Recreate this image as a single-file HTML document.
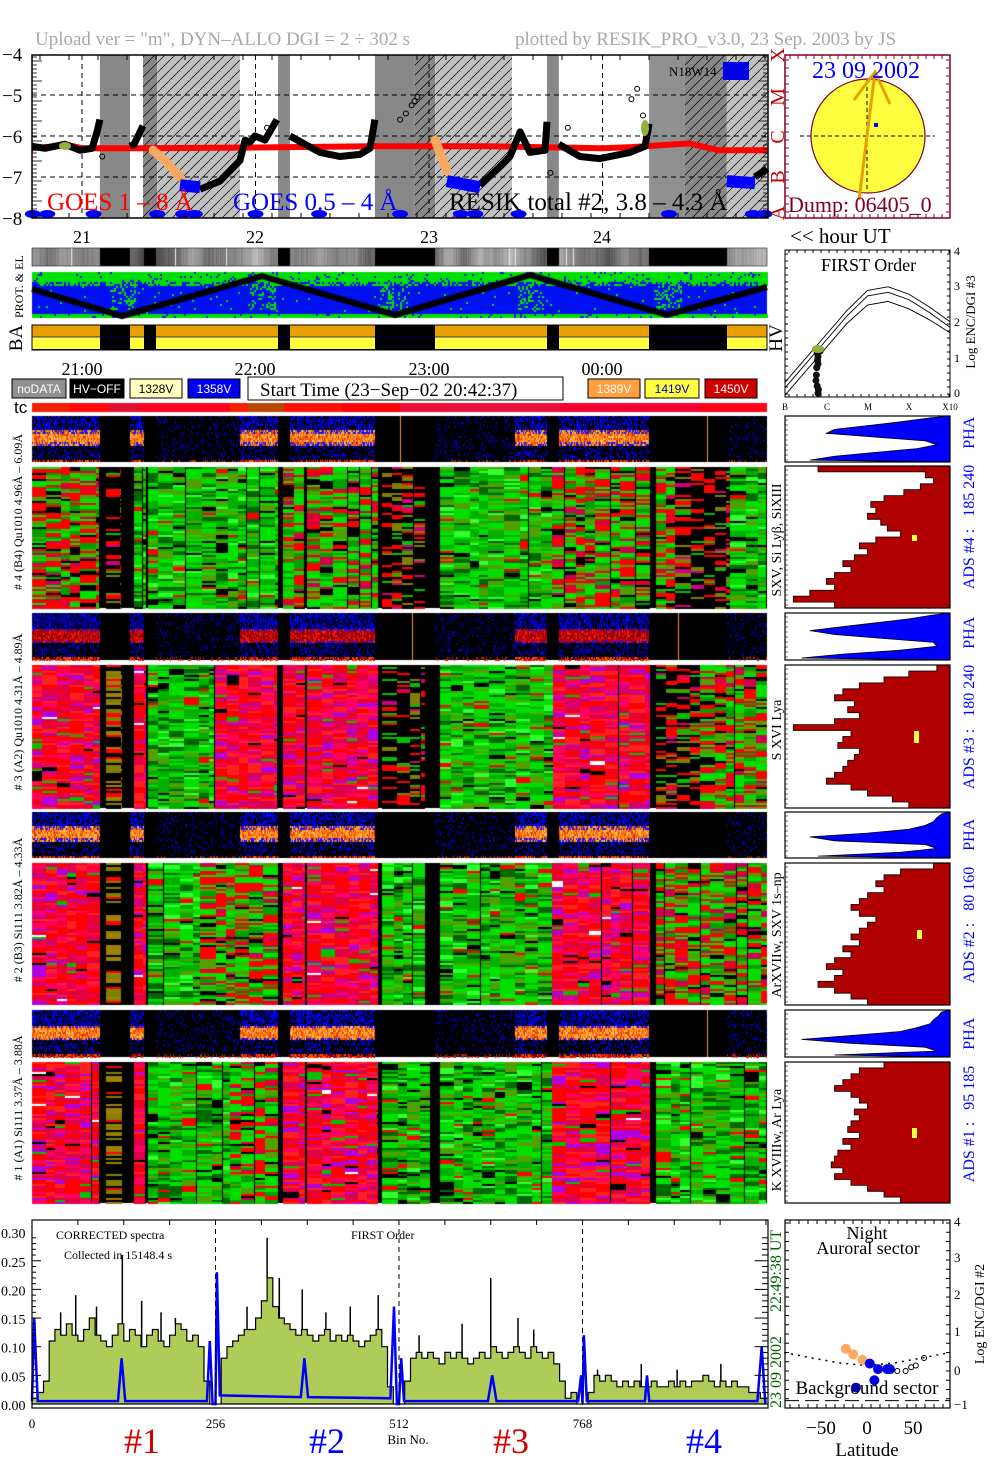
<!DOCTYPE html>
<html><head><meta charset="utf-8">
<style>
html,body{margin:0;padding:0;background:#fff;}
#root{position:relative;width:1004px;height:1477px;overflow:hidden;background:#fff;}
#tex,#svg{position:absolute;left:0;top:0;}
text{font-family:"Liberation Serif",serif;}
.sans{font-family:"Liberation Sans",sans-serif;}
</style></head>
<body>
<div id="root">
<canvas id="tex" width="1004" height="1477"></canvas>
<svg id="svg" width="1004" height="1477" viewBox="0 0 1004 1477" xmlns="http://www.w3.org/2000/svg">
<defs>
<pattern id="hatch" patternUnits="userSpaceOnUse" width="10" height="10"><path d="M-1,11 L11,-1" stroke="#000" stroke-width="0.7"/></pattern>
</defs>
<text x="35" y="45" font-size="19" fill="#a8a8a8">Upload ver = "m", DYN–ALLO DGI =   2 ÷ 302 s</text>
<text x="515" y="45" font-size="19" fill="#a8a8a8">plotted by RESIK_PRO_v3.0, 23 Sep. 2003 by JS</text>
<g id="goes"></g>
<g id="sun"></g>
<g id="strips"></g>
<g id="first"></g>
<g id="hist"></g>
<g id="spec"></g>
<g id="lat"></g>
</svg>
</div>
<script>
// ===== DATA =====
const resikT=[42.7,47.2,54.1,59.3,63.5,65.2,66.2,null,76.6,78,81.1,null,100.8,107.7,114.6,116.4,118.1,119.8,123.3,127.4,null,131.9,142.3,149.2,156.1,159.6,161.3,null,197.6,204.5,208.0,211.5,214.9,220.1,220.8,null,224.9,232.2,239.1,249.5,254.7,256.1,null,292.7,296.9];
const resikV=[-6.25,-6.3,-6.2,-6.35,-6.3,-5.9,-5.6,null,-6.25,-6.2,-5.75,null,-7.3,-7.1,-6.6,-6.1,-6.15,-6.0,-6.1,-5.6,null,-6.0,-6.4,-6.5,-6.45,-6.3,-5.6,null,-7.2,-6.75,-6.5,-5.9,-6.4,-6.35,-5.65,null,-6.2,-6.5,-6.55,-6.4,-6.25,-5.7,null,-7.0,-6.8];
const orangeT=[84.6,88.7,93.9,null,182.1,186.2];
const orangeV=[-6.35,-6.6,-7.0,null,-6.1,-6.85];
const blueT=[93.9,100.8,null,186.2,197.6,null,283.0,292.7];
const blueV=[-7.2,-7.25,null,-7.1,-7.25,null,-7.1,-7.15];
const redT=[42.7,50,54,60,80,120,160,200,240,250,270,280,297];
const redV=[-6.3,-6.25,-6.2,-6.3,-6.3,-6.28,-6.25,-6.25,-6.3,-6.27,-6.18,-6.35,-6.35];
const lowBlueT=[43,48,64,86,95,99,120,142,170,191,196,211,263,292,296];
const outlierT=[67,124,170,172,174,175,176,222,228,250,252,254];
const outlierV=[-6.5,-5.8,-5.6,-5.45,-5.25,-5.15,-5.05,-6.9,-5.8,-5.1,-4.85,-5.5];
const bandS=[66.2,81.1,86.0,127.8,161.3,175.1,182.1,220.8,256.1,268.5,283.0];
const bandE=[76.6,86.0,114.6,131.9,175.1,182.1,208.7,224.9,268.5,283.0,296.9];
const bandK=['d','dh','lh','d','d','dh','lh','d','m','dh','lh'];
const specD1=[0.01,0.02,0.04,0.11,0.13,0.12,0.14,0.12,0.11,0.13,0.15,0.12,0.11,0.10,0.12,0.14,0.11,0.13,0.12,0.10,0.12,0.13,0.11,0.10,0.12,0.14,0.13,0.11,0.12,0.10,0.04,0.00];
const specD2=[0.00,0.08,0.10,0.11,0.12,0.13,0.13,0.15,0.18,0.22,0.17,0.15,0.14,0.13,0.12,0.13,0.12,0.11,0.12,0.13,0.11,0.12,0.11,0.12,0.11,0.10,0.11,0.12,0.13,0.10,0.03,0.00];
const specD3=[0.00,0.04,0.08,0.09,0.08,0.09,0.08,0.07,0.09,0.08,0.09,0.08,0.07,0.08,0.09,0.08,0.10,0.09,0.08,0.09,0.10,0.09,0.08,0.10,0.09,0.08,0.09,0.07,0.04,0.01,0.02,0.00];
const specD4=[0.00,0.02,0.05,0.04,0.05,0.04,0.03,0.04,0.03,0.04,0.03,0.03,0.04,0.03,0.03,0.04,0.03,0.04,0.03,0.04,0.04,0.05,0.04,0.03,0.04,0.03,0.04,0.03,0.03,0.02,0.02,0.01];
const peakBins=[40,61,90,126,153,180,200,300,328,345,377,410,444,483,540,600,640,678,700,789,850,900,961];
const peakVals=[0.16,0.19,0.17,0.26,0.18,0.16,0.15,0.17,0.29,0.22,0.20,0.16,0.17,0.19,0.12,0.14,0.22,0.15,0.13,0.06,0.07,0.06,0.07];
const bgBins=[0,3,8,120,125,130,244,248,252,256,258,262,375,380,385,500,505,509,512,515,519,636,642,648,762,766,768,770,774,855,858,861,1012,1018,1023];
const bgVals=[0.005,0.15,0.005,0.005,0.08,0.005,0.005,0.11,0.0,0.0,0.23,0.015,0.012,0.08,0.012,0.01,0.17,0.0,0.0,0.08,0.005,0.005,0.05,0.005,0.005,0.05,0.0,0.12,0.005,0.005,0.05,0.005,0.005,0.1,0.0];
const pha4=[0.88,0.7,0.5,0.3,0.25,0.55,0.85,0.92,0.8,0.55,0.3,0.15];
const pha3=[0.9,0.75,0.55,0.35,0.15,0.3,0.6,0.9,0.92,0.7,0.35,0.1];
const pha2=[0.95,0.92,0.9,0.85,0.75,0.5,0.15,0.3,0.85,0.92,0.7,0.2];
const pha1=[0.95,0.93,0.9,0.88,0.8,0.7,0.4,0.1,0.4,0.85,0.92,0.3];
const ads4=[0.2,0.85,0.9,0.82,0.72,0.6,0.52,0.55,0.5,0.58,0.62,0.7,0.55,0.45,0.5,0.42,0.35,0.4,0.3,0.25,0.3,0.15,0.05,0.3];
const ads3=[0.92,0.75,0.6,0.45,0.35,0.3,0.42,0.38,0.45,0.3,0.05,0.4,0.35,0.32,0.45,0.42,0.38,0.35,0.3,0.25,0.4,0.5,0.65,0.75];
const ads2=[0.9,0.7,0.6,0.55,0.6,0.5,0.45,0.4,0.45,0.55,0.5,0.45,0.4,0.45,0.35,0.4,0.3,0.25,0.35,0.3,0.2,0.3,0.4,0.5];
const ads1=[0.6,0.45,0.4,0.35,0.3,0.4,0.45,0.5,0.42,0.45,0.4,0.38,0.45,0.35,0.4,0.32,0.3,0.28,0.35,0.3,0.4,0.5,0.6,0.7];
const firstDec=[0,0.5,1,1.5,2,2.5,3,3.5,4];
const firstC1=[0.4,1.05,1.7,2.35,2.9,3.0,2.8,2.45,2.05];
const firstC2=[0.25,0.9,1.55,2.2,2.75,2.85,2.65,2.3,1.9];
const firstC3=[0.05,0.7,1.35,2.0,2.5,2.6,2.4,2.1,1.75];
const firstPtsX=[0.78,0.8,0.82,0.85,0.8,0.76,0.78,0.8,0.75,0.77,0.79,0.81];
const firstPtsY=[1.2,1.1,1.3,1.25,0.9,0.6,0.3,0.1,0.45,0.8,1.0,0.2];
const latOrange=[-23,-15,-5];
const latOrangeV=[0.6,0.45,0.3];
const latBlue=[3,12,22,25,8,-12];
const latBlueV=[0.2,0.05,0.05,0.05,-0.25,-0.45];
const latOpen=[33,42,48,53,62];
const latOpenV=[0.0,0.0,0.1,0.15,0.35];
const latCurveX=[-90,-60,-30,0,30,60,90];
const latCurveV=[0.5,0.35,0.22,0.15,0.22,0.35,0.5];

// ===== helpers =====
const NS='http://www.w3.org/2000/svg';
function el(parent,tag,attrs,txt){const e=document.createElementNS(NS,tag);for(const k in attrs)e.setAttribute(k,attrs[k]);if(txt!=null)e.textContent=txt;parent.appendChild(e);return e;}
const tx=m=>82+(m-60)*2.8917;
const gy=v=>54+(-4-v)*41;
function hs(a,b,c){let h=Math.imul(a|0,374761393)^Math.imul(b|0,668265263)^Math.imul(c|0,1274126177);h=Math.imul(h^(h>>>13),1274126177);h^=h>>>16;return (h>>>0)/4294967296;}
function pick(pal,r){let t=0;for(const p of pal)t+=p[1];let a=r*t;for(const p of pal){a-=p[1];if(a<=0)return p[0];}return pal[pal.length-1][0];}
function pathFrom(T,V,fx,fy){let d='',pen=false;for(let i=0;i<T.length;i++){if(T[i]===null){pen=false;continue;}d+=(pen?'L':'M')+fx(T[i]).toFixed(1)+','+fy(V[i]).toFixed(1);pen=true;}return d;}

// ===== canvas textures =====
const C=document.getElementById('tex').getContext('2d');
const gaps=[[100,130],[144,156],[278,290],[375,435],[547,559],[649,727]];
// smooth time gradient strip
for(let x=32;x<767;x++){const a=hs(x>>4,1,2),b=hs((x>>4)+1,1,2),f=(x%16)/16;let g=Math.round(60+130*(a*(1-f)+b*f)+25*hs(x,3,4));if(hs(x,5,6)<0.012)g=235;C.fillStyle=`rgb(${g},${g},${g})`;C.fillRect(x,248,1,18);}
C.fillStyle='#000';for(const g of gaps)C.fillRect(g[0],248,g[1]-g[0],18);
// PROT strip
C.fillStyle='#0010f0';C.fillRect(32,272,735,46);
for(let x=32;x<767;x+=2)for(let y=272;y<318;y+=2){const r=(y-272)/46;let p=r<0.2?0.92:(r<0.3?0.5:(r>0.88?0.9:0.02));const near=[122,262,395,530,667].some(c=>Math.abs(c-x)<14);if(near&&r<0.8)p=Math.max(p,0.3);if(hs(x>>1,y>>1,11)<p){C.fillStyle='#00e000';C.fillRect(x,y,2,2);}}
const zig=[[32,289],[122,316],[262,276],[395,315],[530,275],[667,315],[767,287]];
C.strokeStyle='#000';C.lineWidth=6;C.beginPath();zig.forEach((p,i)=>i?C.lineTo(p[0],p[1]):C.moveTo(p[0],p[1]));C.stroke();
// tc strip
const tcCols=[['#f02000',32,70],['#ff0a0a',70,110],['#e01030',110,140],['#ff0020',140,230],['#f02000',230,248],['#b84800',248,284],['#ff1000',284,343],['#ff0000',343,400],['#e8103a',400,560],['#f00030',560,700],['#ff0018',700,767]];
for(const c of tcCols){C.fillStyle=c[0];C.fillRect(c[1],403,c[2]-c[1],9);}
// PHA strips
const phaLayout=[[32,100,'A'],[100,130,'K'],[130,144,'A'],[144,156,'K'],[156,240,'D'],[240,278,'A'],[278,290,'K'],[290,375,'A'],[375,435,'K'],[435,515,'D'],[515,547,'A'],[547,559,'K'],[559,649,'A'],[649,727,'K'],[727,767,'D']];
const bandOrange=[['#ff9020',3],['#ff6000',3],['#ffb040',2],['#e03000',2],['#ffd060',1]];
const bandRed=[['#c00000',3],['#ff2000',2],['#a00020',2],['#800000',2]];
function drawPHA(y0,h,sid,band,lines){C.fillStyle='#000';C.fillRect(32,y0,735,h);
 for(const s of phaLayout){if(s[2]==='K')continue;for(let x=s[0];x<s[1];x++)for(let y=y0;y<y0+h;y+=2){const rel=(y-y0)/h,r=hs(x,y,sid);let c=null;
  if(s[2]==='A'){if(rel>0.3&&rel<0.62){c=(rel>0.36&&rel<0.56)?pick(band,r):(r<0.6?pick(band,hs(y,x,sid)):'#1010ff');}
   else if(rel>=0.92){if(r<0.7)c=r<0.35?'#ff5000':'#d00000';}
   else{const p=rel<0.3?0.55:0.28;if(r<p)c=r<p*0.6?'#0000ff':'#0000a0';}}
  else{if(rel>=0.92){if(r<0.25)c='#c02000';}else if(r<0.12)c='#0000d0';}
  if(c){C.fillStyle=c;C.fillRect(x,y,1,2);}}}
 for(const lx of lines){C.fillStyle='#ff9020';C.fillRect(lx,y0,1,h);}}
drawPHA(416,46,21,bandOrange,[400,707]);
drawPHA(613,47,22,bandRed,[412,678]);
drawPHA(812,46,23,bandOrange,[]);
drawPHA(1010,47,24,bandOrange,[707]);
const PAL={G:[['#00e000',4],['#00b000',3],['#50a000',2],['#006800',2],['#ff0000',0.6],['#000000',0.8],['#30ff30',1]],
R:[['#ff0000',4],['#e0004a',3],['#b000e0',1.5],['#ff0060',2],['#00c000',0.5],['#000000',0.3],['#ff2020',2],['#ffffff',0.12]],
M:[['#00e000',3],['#ff0000',3],['#50a000',1.5],['#d00050',1],['#000000',1],['#00a000',1.5]],
S:[['#000000',7],['#ff0000',2],['#00c000',1],['#808000',1],['#d00080',0.5]],
O:[['#000000',4],['#a08000',2],['#ff0000',1],['#808000',2]]};
const spec4L=[[32,100,'M'],[106,122,'S'],[134,146,'G'],[148,278,'G'],[283,305,'M'],[307,378,'M'],[382,425,'S'],[440,552,'G'],[552,650,'M'],[656,675,'M'],[675,730,'S'],[730,767,'G']];
const spec3L=[[32,100,'R'],[106,122,'O'],[134,146,'R'],[148,215,'G'],[215,278,'R'],[283,305,'R'],[307,378,'R'],[382,425,'S'],[440,553,'G'],[553,650,'R'],[656,700,'S'],[700,767,'M']];
const spec2L=[[32,100,'R'],[106,122,'O'],[134,146,'R'],[148,200,'G'],[200,278,'M'],[283,305,'R'],[307,378,'R'],[382,425,'G'],[440,552,'G'],[552,650,'R'],[656,767,'M']];
const spec1L=[[32,100,'R'],[106,122,'O'],[134,146,'R'],[148,230,'G'],[230,278,'M'],[283,305,'R'],[307,378,'R'],[382,430,'G'],[440,552,'G'],[552,650,'R'],[656,767,'G']];
function drawSpec(y0,h,L,sid){C.fillStyle='#000';C.fillRect(32,y0,735,h);
 for(const s of L){const pal=PAL[s[2]];let x=s[0];while(x<s[1]){let w=9+Math.floor(hs(x,sid,7)*8);if(x+w>s[1])w=s[1]-x;let cur=null;
  for(let y=y0;y<y0+h;y+=2){if(cur===null||hs(x,y,sid)<0.8)cur=pick(pal,hs(y,x,sid+3));C.fillStyle=cur;C.fillRect(x,y,w,2);}
  if(hs(x,sid,9)<0.2){C.fillStyle='#000';C.fillRect(x+w-1,y0,1,h);}x+=w;}}}
drawSpec(467,141,spec4L,31);drawSpec(665,143,spec3L,32);drawSpec(863,142,spec2L,33);drawSpec(1062,141,spec1L,34);

// ===== SVG =====
const G=document.getElementById('goes');
for(let i=0;i<bandS.length;i++){const k=bandK[i];const x0=tx(bandS[i]),w=tx(bandE[i])-x0;
 const f=k==='lh'?'#c0c0c0':(k==='m'?'#909090':'#888888');
 const r=el(G,'rect',{x:x0,y:55,width:w,height:163,fill:f});
 
 if(k==='lh'||k==='dh'){const hr=el(G,'rect',{x:x0,y:55,width:w,height:163,fill:'url(#hatch)'});}}
for(const v of [-5,-6,-7]){el(G,'line',{x1:32,x2:768,y1:gy(v),y2:gy(v),stroke:'#000','stroke-dasharray':'5,4','stroke-width':1});}
for(const m of [60,120,180,240]){el(G,'line',{x1:tx(m),x2:tx(m),y1:55,y2:218,stroke:'#000','stroke-dasharray':'5,4','stroke-width':1});}
let p=el(G,'path',{d:pathFrom(redT,redV,tx,gy),stroke:'#ff0000','stroke-width':6,fill:'none'});
p=el(G,'path',{d:pathFrom(resikT,resikV,tx,gy),stroke:'#000','stroke-width':7,fill:'none','stroke-linejoin':'round'});
p=el(G,'path',{d:pathFrom(orangeT,orangeV,tx,gy),stroke:'#f8a860','stroke-width':9,fill:'none','stroke-linecap':'round'});
p=el(G,'path',{d:pathFrom(blueT,blueV,tx,gy),stroke:'#0000ff','stroke-width':12,fill:'none'});
for(let i=0;i<lowBlueT.length;i++){const e=el(G,'ellipse',{cx:tx(lowBlueT[i]),cy:214,rx:8,ry:4,fill:'#0000ff'});}
for(let i=0;i<outlierT.length;i++){const e=el(G,'circle',{cx:tx(outlierT[i]),cy:gy(outlierV[i]),r:2.5,fill:'none',stroke:'#000'});}
el(G,'ellipse',{cx:65,cy:146,rx:6,ry:4,fill:'#90b040'});el(G,'ellipse',{cx:645,cy:128,rx:4,ry:8,fill:'#90b040'});
el(G,'rect',{x:32,y:55,width:736,height:163,fill:'none',stroke:'#000','stroke-width':1.5});
for(let y=57;y<218;y+=4)el(G,'line',{x1:32,x2:y%20<4?42:37,y1:y,y2:y,stroke:'#000','stroke-width':0.8});
for(let y=57;y<218;y+=4)el(G,'line',{x1:768,x2:y%20<4?758:763,y1:y,y2:y,stroke:'#000','stroke-width':0.8});
for(let x=40;x<768;x+=29){el(G,'line',{x1:x,x2:x,y1:55,y2:60,stroke:'#000'});el(G,'line',{x1:x,x2:x,y1:218,y2:213,stroke:'#000'});}
[-4,-5,-6,-7,-8].forEach(v=>{const t=el(G,'text',{x:2,y:gy(v)+7,'font-size':19},'−'+(-v));});
['A','B','C','M','X'].forEach((L,i)=>{const y=[213,177,137,97,55][i];el(G,'text',{x:784,y:y,'font-size':20,fill:'#c00000',transform:`rotate(-90 784 ${y})`,'text-anchor':'middle'},L);});
el(G,'rect',{x:723,y:62,width:26,height:18,fill:'#0000e0'});
el(G,'text',{x:669,y:76,'font-size':13},'N18W14');
let t=el(G,'text',{x:47,y:210,'font-size':25,fill:'#ff0000'},'GOES 1 – 8 Å');
t=el(G,'text',{x:233,y:210,'font-size':25,fill:'#0000ff'},'GOES 0.5 – 4 Å');
t=el(G,'text',{x:449,y:210,'font-size':25,fill:'#000'},'RESIK total #2, 3.8 – 4.3 Å');

const SU=document.getElementById('sun');
el(SU,'rect',{x:785,y:55,width:165,height:163,fill:'#fff',stroke:'#800020','stroke-width':1.5});
for(let x=790;x<950;x+=8){el(SU,'line',{x1:x,x2:x,y1:55,y2:59,stroke:'#800020'});el(SU,'line',{x1:x,x2:x,y1:218,y2:214,stroke:'#800020'});}
for(let y=60;y<218;y+=8){el(SU,'line',{x1:785,x2:789,y1:y,y2:y,stroke:'#800020'});el(SU,'line',{x1:950,x2:946,y1:y,y2:y,stroke:'#800020'});}
el(SU,'circle',{cx:868,cy:136,r:57,fill:'#ffff40',stroke:'#800020','stroke-width':1.2});
el(SU,'line',{x1:800,x2:935,y1:136,y2:136,stroke:'#000','stroke-dasharray':'4,3'});
el(SU,'line',{x1:867,x2:867,y1:80,y2:192,stroke:'#000','stroke-dasharray':'4,3'});
el(SU,'path',{d:'M859,200 L875,72 M854,100 L875,72 L890,104',stroke:'#e8a000','stroke-width':3,fill:'none'});
el(SU,'rect',{x:874,y:123,width:4,height:4,fill:'#0000ff'});
el(SU,'text',{x:812,y:78,'font-size':24,fill:'#0000ff'},'23 09 2002');
el(SU,'text',{x:788,y:212,'font-size':22,fill:'#800020'},'Dump: 06405_0');

const ST=document.getElementById('strips');
[['21',82],['22',255],['23',429],['24',602]].forEach(a=>el(ST,'text',{x:a[1],y:243,'font-size':18,'text-anchor':'middle'},a[0]));
el(ST,'text',{x:790,y:243,'font-size':21},'<< hour UT');
el(ST,'text',{x:23,y:318,'font-size':12,transform:'rotate(-90 23 318)'},'PROT. & EL');
el(ST,'rect',{x:32,y:248,width:735,height:18,fill:'none',stroke:'#000','stroke-width':0.5});
const hvS=[32,130,156,290,435,559,727],hvE=[100,144,278,375,547,649,767];
el(ST,'rect',{x:32,y:325,width:735,height:25,fill:'#000'});
for(let i=0;i<hvS.length;i++){el(ST,'rect',{x:hvS[i],y:325,width:hvE[i]-hvS[i],height:12,fill:'#e8a000'});el(ST,'rect',{x:hvS[i],y:337,width:hvE[i]-hvS[i],height:12,fill:'#ffff40'});}
el(ST,'line',{x1:32,x2:767,y1:337,y2:337,stroke:'#000080','stroke-width':0.7});
el(ST,'rect',{x:32,y:325,width:735,height:25,fill:'none',stroke:'#000','stroke-width':1});
el(ST,'text',{x:22,y:338,'font-size':19,transform:'rotate(-90 22 338)','text-anchor':'middle'},'BA');
el(ST,'text',{x:782,y:338,'font-size':19,transform:'rotate(-90 782 338)','text-anchor':'middle'},'HV');
[['21:00',82],['22:00',255],['23:00',429],['00:00',602]].forEach(a=>el(ST,'text',{x:a[1],y:375,'font-size':18,'text-anchor':'middle'},a[0]));
const leg=[['noDATA',12,54,'#909090','#fff'],['HV−OFF',70,54,'#000','#fff'],['1328V',130,52,'#ffffc0','#000'],['1358V',188,52,'#0000f0','#fff'],['1389V',588,52,'#ffa040','#fff'],['1419V',645,54,'#ffff40','#0000c0'],['1450V',705,52,'#d00000','#fff']];
for(const l of leg){const g=el(ST,'g',{});
 el(g,'rect',{x:l[1],y:379,width:l[2],height:19,fill:l[3],stroke:'#000'});el(g,'text',{x:l[1]+l[2]/2,y:393,'font-size':12,'text-anchor':'middle',fill:l[4],class:'sans'},l[0]);}
el(ST,'rect',{x:248,y:377,width:315,height:23,fill:'#fff',stroke:'#000'});
el(ST,'text',{x:260,y:396,'font-size':19},'Start Time (23−Sep−02 20:42:37)');
el(ST,'text',{x:14,y:413,'font-size':17,class:'sans'},'tc');
[['# 4 (B4) Qu1010 4.96Å – 6.09Å',512],['# 3 (A2) Qu1010 4.31Å – 4.89Å',712],['# 2 (B3) Si111 3.82Å – 4.33Å',910],['# 1 (A1) Si111 3.37Å – 3.88Å',1108]].forEach(a=>{const t=el(ST,'text',{x:22,y:a[1],'font-size':12,transform:`rotate(-90 22 ${a[1]})`,'text-anchor':'middle'},a[0]);});
[['SXV, Si Lyβ, SiXIII',540],['S XVI Lya',730],['ArXVIIw, SXV 1s–np',935],['K XVIIIw, Ar Lya',1140]].forEach(a=>el(ST,'text',{x:781,y:a[1],'font-size':14,transform:`rotate(-90 781 ${a[1]})`,'text-anchor':'middle'},a[0]));
[['ADS #4 :   185 240    PHA',503],['ADS #3 :   180 240    PHA',703],['ADS #2 :   80 160    PHA',901],['ADS #1 :   95 185    PHA',1100]].forEach(a=>{const t=el(ST,'text',{x:974,y:a[1],'font-size':16,fill:'#0000ff',transform:`rotate(-90 974 ${a[1]})`,'text-anchor':'middle'},a[0]);t.setAttribute('style','white-space:pre');});

const F=document.getElementById('first');
const fx=d=>785+d*41.25,fy=v=>397-v*36.75;
el(F,'rect',{x:785,y:250,width:165,height:147,fill:'#fff',stroke:'#000'});
for(let x=789;x<950;x+=8){el(F,'line',{x1:x,x2:x,y1:250,y2:253,stroke:'#000'});el(F,'line',{x1:x,x2:x,y1:397,y2:394,stroke:'#000'});}
for(let y=254;y<397;y+=7){el(F,'line',{x1:785,x2:788,y1:y,y2:y,stroke:'#000'});el(F,'line',{x1:950,x2:947,y1:y,y2:y,stroke:'#000'});}
[firstC1,firstC2,firstC3].forEach((c,i)=>{const q=el(F,'path',{d:pathFrom(firstDec,c,fx,fy),stroke:'#000',fill:'none','stroke-width':0.9});});
for(let i=0;i<firstPtsX.length;i++){const c=el(F,'circle',{cx:fx(firstPtsX[i]),cy:fy(firstPtsY[i]),r:3.5,fill:'#111'});}
el(F,'ellipse',{cx:818,cy:349,rx:6,ry:4,fill:'#90b040'});
el(F,'text',{x:821,y:271,'font-size':18},'FIRST Order');
[['4',255],['3',290],['2',326],['1',362],['0',397]].forEach(a=>el(F,'text',{x:954,y:a[1],'font-size':12},a[0]));
el(F,'text',{x:975,y:322,'font-size':13,transform:'rotate(-90 975 322)','text-anchor':'middle'},'Log ENC/DGI #3');
[['B',785],['C',827],['M',868],['X',909],['X10',950]].forEach(a=>el(F,'text',{x:a[1],y:410,'font-size':9,'text-anchor':'middle'},a[0]));

const H=document.getElementById('hist');
function hist(y0,h,arr,fill,nm,mark,smooth){const w=165,x0=785;el(H,'rect',{x:x0,y:y0,width:w,height:h,fill:'#fff'});
 const n=arr.length,dy=h/n;let d=`M${x0+w},${y0}`;
 for(let i=0;i<n;i++){const x=x0+arr[i]*w;if(smooth)d+=`L${x.toFixed(1)},${(y0+(i+0.5)*dy).toFixed(1)}`;else d+=`L${x.toFixed(1)},${(y0+i*dy).toFixed(1)}L${x.toFixed(1)},${(y0+(i+1)*dy).toFixed(1)}`;}
 d+=`L${x0+w},${y0+h}Z`;
 const q=el(H,'path',{d:d,fill:fill,stroke:'#000','stroke-width':0.8});
 if(mark)el(H,'rect',{x:mark[0],y:mark[1],width:5,height:mark[2],fill:'#ffff40'});
 el(H,'rect',{x:x0,y:y0,width:w,height:h,fill:'none',stroke:'#000','stroke-width':1.2});
 for(let y=y0+4;y<y0+h;y+=5)el(H,'line',{x1:x0,x2:x0+3,y1:y,y2:y,stroke:'#000','stroke-width':0.6});}
hist(416,46,pha4,'#0000ff','pha4-histogram',null,true);hist(466,142,ads4,'#b00000','ads4-histogram',[912,535,6]);
hist(613,47,pha3,'#0000ff','pha3-histogram',null,true);hist(665,143,ads3,'#b00000','ads3-histogram',[914,731,12]);
hist(812,46,pha2,'#0000ff','pha2-histogram',null,true);hist(863,142,ads2,'#b00000','ads2-histogram',[917,930,9]);
hist(1010,47,pha1,'#0000ff','pha1-histogram',null,true);hist(1062,141,ads1,'#b00000','ads1-histogram',[912,1128,10]);

const SP=document.getElementById('spec');
const xb=b=>32+b*0.7168,ys=v=>1404-v*573;
const allSpec=specD1.concat(specD2,specD3,specD4);
let d=`M${xb(0)},${ys(0)}`;for(let i=0;i<allSpec.length;i++){d+=`L${xb(i*8).toFixed(1)},${ys(allSpec[i]).toFixed(1)}L${xb(i*8+8).toFixed(1)},${ys(allSpec[i]).toFixed(1)}`;}d+=`L${xb(1024)},${ys(0)}Z`;
p=el(SP,'path',{d:d,fill:'#b0cc58',stroke:'#000','stroke-width':1.2});
for(let i=0;i<peakBins.length;i++){const q=el(SP,'line',{x1:xb(peakBins[i]),x2:xb(peakBins[i]),y1:ys(allSpec[Math.floor(peakBins[i]/8)]),y2:ys(peakVals[i]),stroke:'#000','stroke-width':1.5});}
p=el(SP,'path',{d:pathFrom(bgBins,bgVals,xb,ys),stroke:'#0000ff','stroke-width':2.5,fill:'none'});
for(const b of [256,512,768])el(SP,'line',{x1:xb(b),x2:xb(b),y1:1220,y2:1408,stroke:'#000','stroke-dasharray':'5,4'});
el(SP,'rect',{x:32,y:1220,width:736,height:188,fill:'none',stroke:'#000','stroke-width':1.2});
for(let v=0;v<=0.3;v+=0.01){const L=Math.round(v*100)%5===0?9:4;el(SP,'line',{x1:32,x2:32+L,y1:ys(v),y2:ys(v),stroke:'#000'});el(SP,'line',{x1:768,x2:768-L*1.5,y1:ys(v),y2:ys(v),stroke:'#000'});}
for(let b=0;b<=1024;b+=64)el(SP,'line',{x1:xb(b),x2:xb(b),y1:1220,y2:1225,stroke:'#000'});
['0.00','0.05','0.10','0.15','0.20','0.25','0.30'].forEach((s,i)=>{const t=el(SP,'text',{x:1,y:ys(i*0.05)+6,'font-size':14},s);});
[['0',0],['256',256],['512',512],['768',768]].forEach(a=>el(SP,'text',{x:xb(a[1]),y:1428,'font-size':13,'text-anchor':'middle'},a[0]));
el(SP,'text',{x:408,y:1444,'font-size':13,'text-anchor':'middle'},'Bin No.');
[['#1',142,'#d00000'],['#2',327,'#0000ff'],['#3',511,'#d00000'],['#4',704,'#0000ff']].forEach(a=>{const t=el(SP,'text',{x:a[1],y:1453,'font-size':36,'text-anchor':'middle',fill:a[2]},a[0]);});
el(SP,'text',{x:56,y:1239,'font-size':12},'CORRECTED spectra');
el(SP,'text',{x:64,y:1259,'font-size':12},'Collected in 15148.4 s');
el(SP,'text',{x:351,y:1239,'font-size':12},'FIRST Order');
el(SP,'text',{x:781,y:1408,'font-size':16,fill:'#006000',transform:'rotate(-90 781 1408)',style:'white-space:pre'},'23 09 2002      22:49:38 UT');

const LA=document.getElementById('lat');
const lx=v=>867+v*0.92,ly=v=>1371-v*37;
el(LA,'rect',{x:785,y:1220,width:165,height:188,fill:'#fff',stroke:'#000','stroke-width':1.2});
for(let x=790;x<950;x+=9){el(LA,'line',{x1:x,x2:x,y1:1220,y2:1224,stroke:'#000'});el(LA,'line',{x1:x,x2:x,y1:1408,y2:1404,stroke:'#000'});}
for(let v=-1;v<=4;v+=0.25){el(LA,'line',{x1:785,x2:789,y1:ly(v),y2:ly(v),stroke:'#000'});el(LA,'line',{x1:950,x2:946,y1:ly(v),y2:ly(v),stroke:'#000'});}
p=el(LA,'path',{d:pathFrom(latCurveX,latCurveV,lx,ly),stroke:'#000','stroke-dasharray':'2,5','stroke-width':1.5,fill:'none'});
el(LA,'line',{x1:785,x2:950,y1:ly(-0.8),y2:ly(-0.8),stroke:'#000','stroke-dasharray':'14,6'});
for(let i=0;i<latOrange.length;i++){const c=el(LA,'circle',{cx:lx(latOrange[i]),cy:ly(latOrangeV[i]),r:5,fill:'#ffa860'});}
for(let i=0;i<latBlue.length;i++){const c=el(LA,'circle',{cx:lx(latBlue[i]),cy:ly(latBlueV[i]),r:5,fill:'#0000e0'});}
for(let i=0;i<latOpen.length;i++){const c=el(LA,'circle',{cx:lx(latOpen[i]),cy:ly(latOpenV[i]),r:2.5,fill:'none',stroke:'#000'});}
el(LA,'text',{x:867,y:1239,'font-size':18,'text-anchor':'middle'},'Night');
el(LA,'text',{x:868,y:1254,'font-size':18,'text-anchor':'middle'},'Auroral sector');
el(LA,'text',{x:867,y:1394,'font-size':19,'text-anchor':'middle'},'Background sector');
[['4',1226],['3',1262],['2',1299],['1',1336],['0',1375],['−1',1409]].forEach(a=>el(LA,'text',{x:954,y:a[1],'font-size':13},a[0]));
el(LA,'text',{x:984,y:1314,'font-size':14,transform:'rotate(-90 984 1314)','text-anchor':'middle'},'Log ENC/DGI #2');
[['−50',821],['0',867],['50',913]].forEach(a=>el(LA,'text',{x:a[1],y:1434,'font-size':19,'text-anchor':'middle'},a[0]));
el(LA,'text',{x:867,y:1456,'font-size':19,'text-anchor':'middle'},'Latitude');
</script>
</body></html>
